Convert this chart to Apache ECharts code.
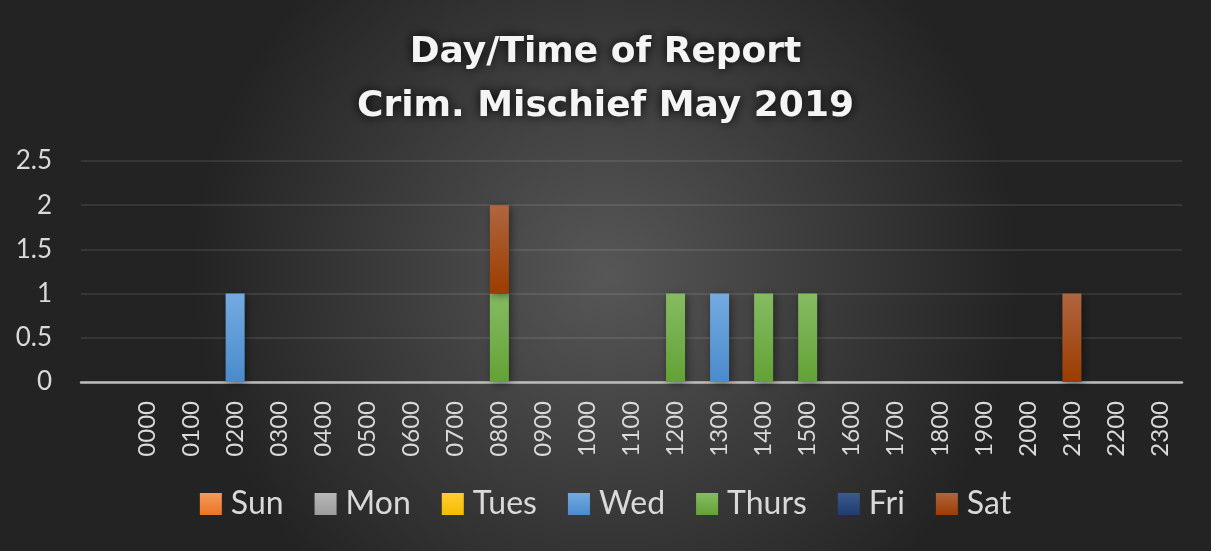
<!DOCTYPE html>
<html><head><meta charset="utf-8">
<script src="https://cdn.jsdelivr.net/npm/echarts@6/dist/echarts.min.js"></script>
<style>html,body{margin:0;padding:0;background:#333;}#c{width:1211px;height:551px;}</style>
</head><body><div id="c"></div>
<script>
var categories = ['', '0000','0100','0200','0300','0400','0500','0600','0700','0800','0900','1000','1100','1200','1300','1400','1500','1600','1700','1800','1900','2000','2100','2200','2300'];
var days = ['Sun','Mon','Tues','Wed','Thurs','Fri','Sat'];
var sun   = [null,0,0,0,0,0,0,0,0,0,0,0,0,0,0,0,0,0,0,0,0,0,0,0,0];
var mon   = [null,0,0,0,0,0,0,0,0,0,0,0,0,0,0,0,0,0,0,0,0,0,0,0,0];
var tues  = [null,0,0,0,0,0,0,0,0,0,0,0,0,0,0,0,0,0,0,0,0,0,0,0,0];
var wed   = [null,0,0,1,0,0,0,0,0,0,0,0,0,0,1,0,0,0,0,0,0,0,0,0,0];
var thurs = [null,0,0,0,0,0,0,0,0,1,0,0,0,1,0,1,1,0,0,0,0,0,0,0,0];
var fri   = [null,0,0,0,0,0,0,0,0,0,0,0,0,0,0,0,0,0,0,0,0,0,0,0,0];
var sat   = [null,0,0,0,0,0,0,0,0,1,0,0,0,0,0,0,0,0,0,0,0,0,1,0,0];
var yTicks = [0, 0.5, 1, 1.5, 2, 2.5];
var values = [sun, mon, tues, wed, thurs, fri, sat];
var colorsTop = ['#f49a5c','#b8b8b8','#ffcd33','#74aae0','#85bb62','#3d5a8c','#b06640'];
var colorsBot = ['#ec7424','#9c9c9c','#f5bc00','#4a8bcc','#63a236','#1f3b72','#9c3c00'];

var chart = echarts.init(document.getElementById('c'));
function grad(i){
  return new echarts.graphic.LinearGradient(0,0,0,1,[{offset:0,color:colorsTop[i]},{offset:1,color:colorsBot[i]}]);
}
var series = days.map(function(d,i){
  return {
    name: d, type: 'bar', stack: 'total', barWidth: 19,
    data: values[i],
    itemStyle: { color: grad(i), shadowColor: 'rgba(0,0,0,0.45)', shadowBlur: 8, shadowOffsetX: 2, shadowOffsetY: 2 },
    emphasis: { disabled: true }
  };
});
chart.setOption({
  animation: false,
  backgroundColor: new echarts.graphic.RadialGradient(0.5,0.5,0.75,[{offset:0,color:'#575757'},{offset:1,color:'#232323'}]),
  title: {
    text: 'Day/Time of Report\nCrim. Mischief May 2019',
    left: 'center', top: 21,
    textStyle: { color: '#f4f4f4', fontSize: 36, fontWeight: 'bold', fontFamily: 'DejaVu Sans', lineHeight: 54,
      textShadowColor: 'rgba(0,0,0,1)', textShadowBlur: 12 }
  },
  legend: {
    top: 483, left: 'center', itemWidth: 22, itemHeight: 22, itemGap: 31,
    icon: 'rect', symbolKeepAspect: false,
    textStyle: { color: '#d9d9d9', fontSize: 32, fontFamily: 'Lato', padding: [0,0,0,4] },
    data: days.map(function(d,i){ return { name: d, itemStyle: { color: grad(i) } }; })
  },
  grid: { left: 81, right: 29, top: 161, bottom: 169, containLabel: false },
  xAxis: {
    type: 'category', data: categories,
    axisLine: { lineStyle: { color: '#bdbdbd', width: 2.5 } },
    axisTick: { show: false },
    axisLabel: { rotate: 90, color: '#d9d9d9', fontSize: 24, fontFamily: 'Lato', margin: 19, interval: 0 }
  },
  yAxis: {
    type: 'value', min: 0, max: 2.5, interval: 0.5,
    axisLine: { show: false }, axisTick: { show: false },
    axisLabel: { color: '#d9d9d9', fontSize: 26, fontFamily: 'Lato', margin: 29,
      formatter: function(v){ return yTicks.indexOf(v) >= 0 ? String(v) : ''; } },
    splitLine: { lineStyle: { color: 'rgba(255,255,255,0.12)', width: 1.5 } }
  },
  series: series
});
</script></body></html>
